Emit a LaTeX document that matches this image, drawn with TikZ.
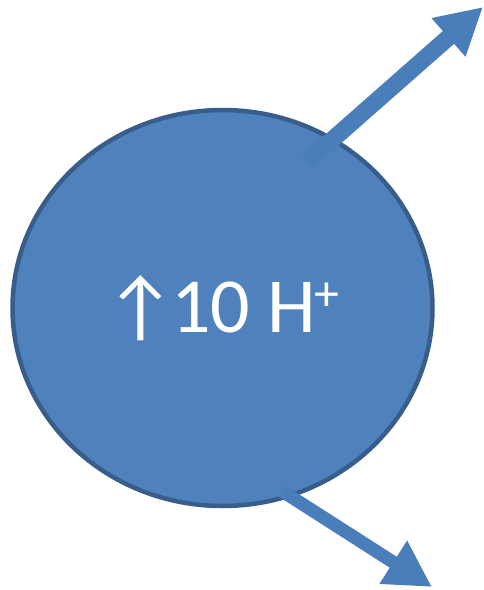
\documentclass[tikz,border=0pt]{standalone}
\usepackage{fontspec}
\setmainfont{Carlito}
\usetikzlibrary{shapes.geometric,arrows.meta}
\definecolor{cellblue}{HTML}{4F81BD}
\definecolor{celledge}{HTML}{385D8A}
\definecolor{fluxblue}{HTML}{4A7EBB}

\begin{document}
\begin{tikzpicture}[x=1pt, y=-1pt,
    cell/.style={ellipse, draw=celledge, line width=4.5pt, fill=cellblue, minimum width=420pt, minimum height=396pt, inner sep=0pt, text=white, font=\fontsize{78}{80}\selectfont},
    flux/.style={draw=fluxblue, line width=17pt, -{Triangle[length=46pt, width=48pt]}}
]
    \useasboundingbox (0,0) rectangle (483,590);

    % Cell
    \node[cell] (cell) at (222.5,308) {↑\kern-5pt10 H\kern-2pt\raisebox{22pt}{\fontsize{50}{50}\selectfont +}};

    % Proton flux out of the cell
    \coordinate (inA) at (307,162);
    \coordinate (outA) at (483,7);
    \coordinate (inB) at (282,491);
    \coordinate (outB) at (432,587);

    \draw[flux] (inA) -- (outA);
    \draw[flux, line width=13pt] (inB) -- (outB);
\end{tikzpicture}
\end{document}
